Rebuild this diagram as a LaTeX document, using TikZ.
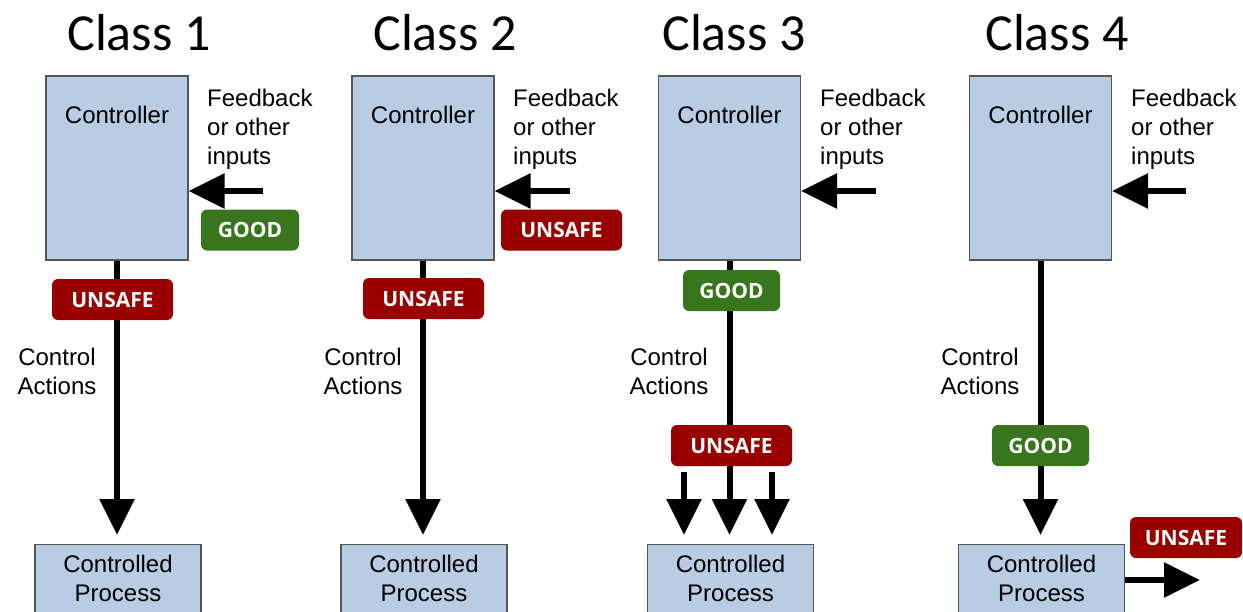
\documentclass[tikz,border=0pt]{standalone}
\usepackage{fontspec}
\setmainfont{Liberation Sans}
\newfontfamily\titlefont{Carlito}
\newfontfamily\badgefont{Open Sans}
\usetikzlibrary{arrows.meta}
\definecolor{boxblue}{HTML}{B8CCE4}
\definecolor{boxedge}{HTML}{555555}
\definecolor{goodgreen}{HTML}{38761D}
\definecolor{unsafered}{HTML}{990000}
\tikzset{
  ctrlbox/.style={draw=boxedge, line width=1.2pt, fill=boxblue, minimum width=142pt, minimum height=184pt, inner sep=0pt},
  procbox/.style={draw=boxedge, line width=1.2pt, fill=boxblue, minimum width=166pt, minimum height=68pt, inner sep=0pt,
    align=center, font=\fontsize{24pt}{29pt}\selectfont},
  plain/.style={inner sep=0pt, font=\fontsize{24pt}{29pt}\selectfont},
  title/.style={inner sep=0pt, anchor=base, font=\titlefont\fontsize{52pt}{60pt}\selectfont},
  badge/.style={rounded corners=6pt, minimum height=41pt, inner sep=0pt, text=white,
    text height=15pt, text depth=0pt, font=\badgefont\bfseries\fontsize{21pt}{25pt}\selectfont},
  goodbadge/.style={badge, fill=goodgreen, minimum width=98pt},
  unsafebadge/.style={badge, fill=unsafered, minimum width=121pt},
  arr/.style={line width=6pt, -{Triangle[length=36pt, width=34pt]}},
}
\begin{document}
\begin{tikzpicture}[x=1pt, y=-1pt]
\useasboundingbox (0,0) rectangle (1243,611);

% ---- titles
\node[title] (t1) at (139,50) {Class 1};
\node[title] (t2) at (445,50) {Class 2};
\node[title] (t3) at (734,50) {Class 3};
\node[title] (t4) at (1057,50) {Class 4};

% ---- controllers and controlled processes
\foreach \i/\cx/\px in {1/117/118, 2/423/424, 3/729.5/730.5, 4/1040.5/1041.5} {
  \node[ctrlbox] (c\i) at (\cx,168) {};
  \node[plain, anchor=base] (ct\i) at (\cx,123) {Controller};
  \node[procbox, anchor=north] (p\i) at (\px,544) {Controlled\\Process};
}

% ---- feedback labels and arrows
\foreach \i/\tx/\fx in {1/207/263, 2/513/570, 3/820/876, 4/1131/1186} {
  \node[plain, anchor=west, align=left] (fb\i) at (\tx,129) {Feedback\\or other\\inputs};
  \coordinate (f\i) at (\fx,191);
  \draw[arr] (f\i) -- (f\i -| c\i.east);
}

% ---- control action labels
\foreach \i/\ax in {1/57, 2/363, 3/669, 4/980} {
  \node[plain, align=center] (ca\i) at (\ax,371) {Control\\Actions};
}

% ---- control action arrows
\draw[arr, shorten >=9pt] (c1.south) -- (c1.south |- p1.north);
\draw[arr, shorten >=9pt] (c2.south) -- (c2.south |- p2.north);
\draw[arr, shorten >=9pt] (c3.south) -- (c3.south |- p3.north);
\draw[arr, shorten >=9pt] (c4.south) -- (c4.south |- p4.north);
\coordinate (s3a) at (684,472);
\coordinate (s3b) at (772,472);
\draw[arr, shorten >=9pt] (s3a) -- (s3a |- p3.north);
\draw[arr, shorten >=9pt] (s3b) -- (s3b |- p3.north);
\coordinate (o4) at (1200,580);
\draw[arr] (p4.east |- o4) -- (o4);

% ---- status badges
\node[goodbadge] (g1) at (250,230) {GOOD};
\node[unsafebadge] (u1) at (112.5,299.5) {UNSAFE};
\node[unsafebadge] (u2a) at (561.5,230) {UNSAFE};
\node[unsafebadge] (u2b) at (423.5,298.5) {UNSAFE};
\node[goodbadge, minimum width=97pt] (g3) at (731.5,290.5) {GOOD};
\node[unsafebadge] (u3) at (731.5,445.5) {UNSAFE};
\node[goodbadge, minimum width=97pt] (g4) at (1040.5,445.5) {GOOD};
\node[unsafebadge, minimum width=112pt] (u4) at (1186,537.5) {UNSAFE};
\end{tikzpicture}
\end{document}
